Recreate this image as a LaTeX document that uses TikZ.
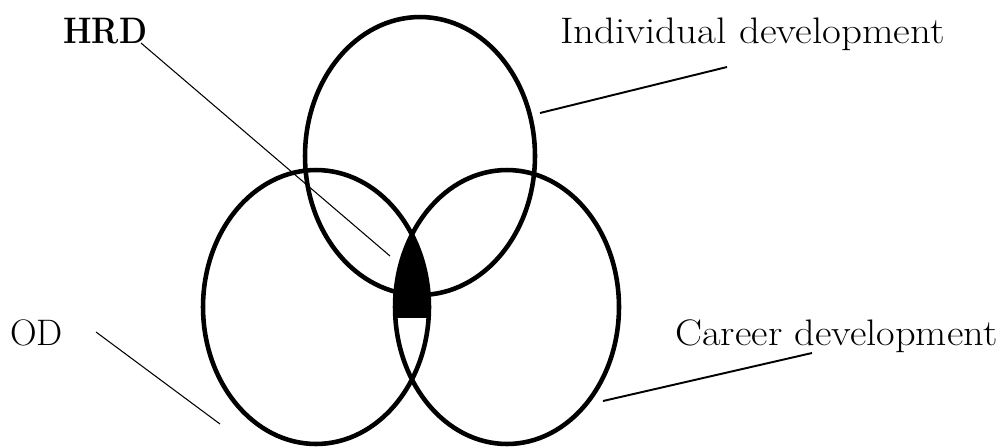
\documentclass[tikz,border=0pt]{standalone}
\usepackage{graphicx}
\begin{document}
\begin{tikzpicture}[x=0.02cm,y=-0.02cm,
  ring/.style={line width=2.6pt},
  thinlead/.style={line width=0.6pt},
  thicklead/.style={line width=1.1pt},
  lbl/.style={inner sep=0pt,anchor=base west,font=\fontsize{21}{25}\selectfont}]
\useasboundingbox (0,0) rectangle (1000,447);
% fill of the common region
\begin{scope}
  \clip (316,307) ellipse [x radius=2.26cm, y radius=2.74cm];
  \clip (0,0) rectangle (1000,317);
  \fill[black] (507,307) ellipse [x radius=2.24cm, y radius=2.74cm];
\end{scope}
% circles
\draw[ring] (420,156) ellipse [x radius=2.3cm, y radius=2.78cm];
\draw[ring] (316,307) ellipse [x radius=2.26cm, y radius=2.74cm];
\draw[ring] (507,307) ellipse [x radius=2.24cm, y radius=2.74cm];
% labels
\node[lbl,font=\fontsize{21}{25}\selectfont\bfseries] (hrd) at (63,43) {\scalebox{0.88}[1]{HRD}};
\node[lbl] (ind) at (560,43) {\scalebox{1.11}[1]{Individual development}};
\node[lbl] (od) at (10,345) {OD};
\node[lbl] (car) at (675,345) {\scalebox{1.095}[1]{Career development}};
% leader end points
\coordinate (hrdA) at (141,43);
\coordinate (hrdB) at (390,256);
\coordinate (indA) at (727,67);
\coordinate (indB) at (540,113);
\coordinate (odA) at (96,332);
\coordinate (odB) at (220,424);
\coordinate (carA) at (812,353);
\coordinate (carB) at (603,401);
\draw[thinlead] (hrdA) -- (hrdB);
\draw[thicklead] (indA) -- (indB);
\draw[thinlead] (odA) -- (odB);
\draw[thicklead] (carA) -- (carB);
\end{tikzpicture}
\end{document}
